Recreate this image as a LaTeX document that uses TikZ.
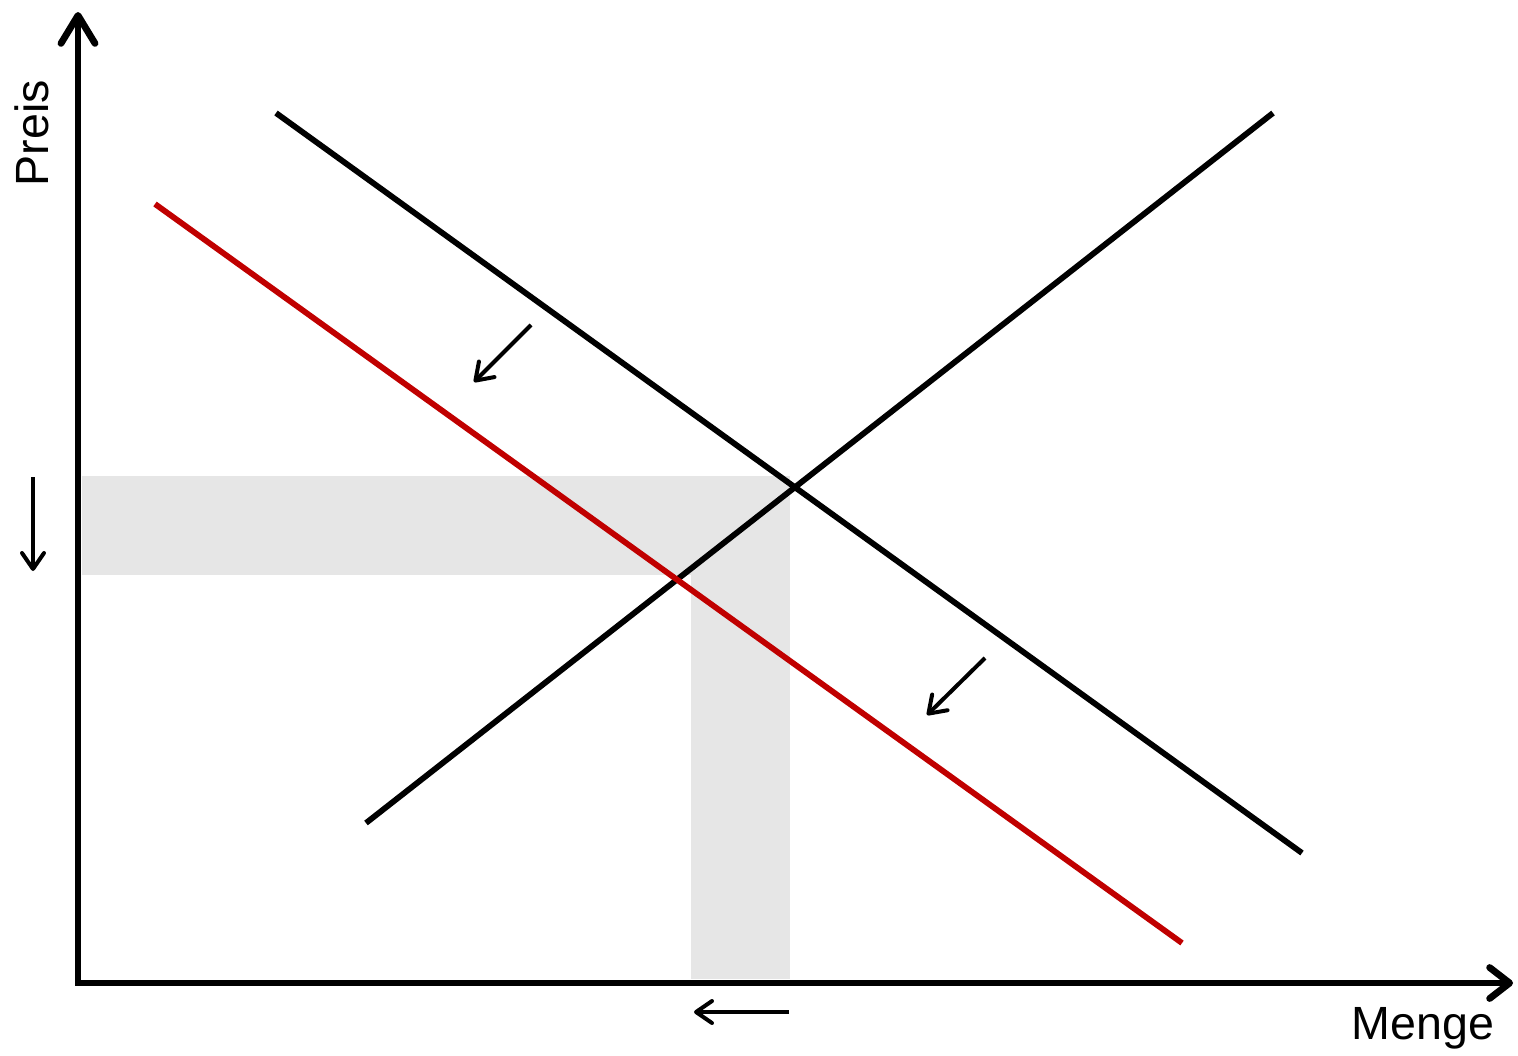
\documentclass[tikz,border=0pt]{standalone}
\usepackage{fontspec}
\setmainfont{Liberation Sans}
\usetikzlibrary{arrows.meta}
\definecolor{band}{HTML}{E6E6E6}
\definecolor{shiftred}{HTML}{C00000}
\tikzset{
  axisline/.style={line width=3.4pt, line join=miter},
  curve/.style={line width=2.9pt},
  shiftarrow/.style={line width=2pt, -{Straight Barb[length=8pt,width=11pt,round]}},
  lbl/.style={font=\fontsize{23.3}{27}\selectfont, inner sep=0pt},
  bandfill/.style={fill=band, draw=none}
}
\begin{document}
\begin{tikzpicture}[x=0.5pt,y=-0.5pt]
\useasboundingbox (0,0) rectangle (1518,1055);
% shaded bands
\fill[bandfill] (82,476) rectangle (790,575);
\fill[bandfill] (691,476) rectangle (790,979);
% axes
\coordinate (ytop) at (78,12);
\coordinate (origin) at (78,983);
\coordinate (xend) at (1513,983);
\draw[axisline, {Straight Barb[length=14pt,width=17pt,round]}-{Straight Barb[length=10pt,width=15.5pt,round]}] (ytop) -- (origin) -- (xend);
% curves
\coordinate (d1a) at (276,113);
\coordinate (d1b) at (1302,853);
\coordinate (sa) at (366,823);
\coordinate (sb) at (1273,113);
\coordinate (d2a) at (155,204);
\coordinate (d2b) at (1182,943);
\draw[curve] (d1a) -- (d1b);
\draw[curve] (sa) -- (sb);
\draw[curve, shiftred] (d2a) -- (d2b);
% shift arrows
\coordinate (a1s) at (531,325);
\coordinate (a1e) at (474,382);
\coordinate (a2s) at (985,658);
\coordinate (a2e) at (927,715);
\coordinate (a3s) at (33,477);
\coordinate (a3e) at (33,571);
\coordinate (a4s) at (789,1012);
\coordinate (a4e) at (694,1012);
\draw[shiftarrow] (a1s) -- (a1e);
\draw[shiftarrow] (a2s) -- (a2e);
\draw[shiftarrow] (a3s) -- (a3e);
\draw[shiftarrow] (a4s) -- (a4e);
% labels
\node[lbl, rotate=90] (preis) at (32,133) {Preis};
\node[lbl] (menge) at (1423,1028) {Menge};
\end{tikzpicture}
\end{document}
